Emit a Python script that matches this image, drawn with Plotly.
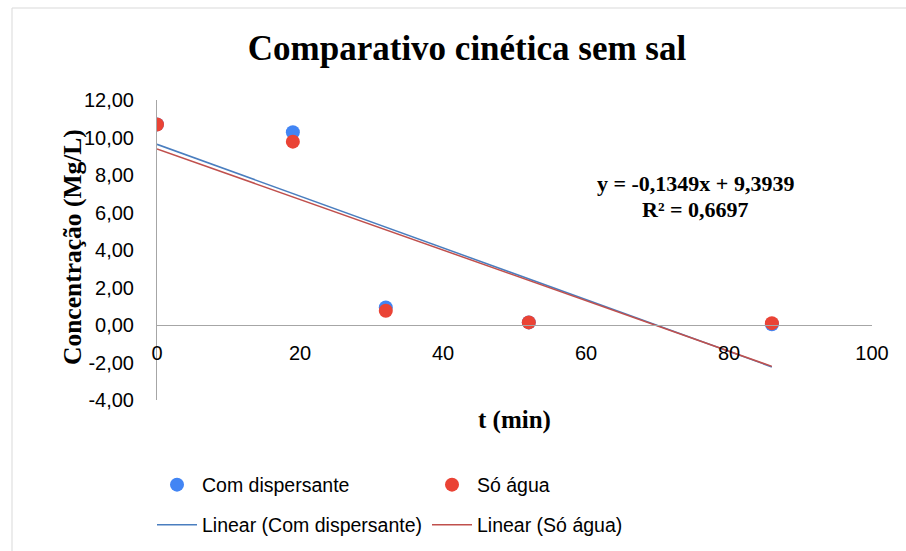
import numpy as np
import plotly.graph_objects as go

# Sampling times (min) and measured concentrations (mg/L)
tempo = [0, 19, 32, 52, 86]
com_dispersante = [10.70, 10.28, 0.93, 0.14, 0.04]
so_agua = [10.69, 9.78, 0.76, 0.14, 0.10]

# Linear trend reported for the "Só água" series
agua_slope = -0.1349
agua_intercept = 9.3939
agua_r2 = 0.6697

x_ticks = [0, 20, 40, 60, 80, 100]
y_ticks = [-4, -2, 0, 2, 4, 6, 8, 10, 12]
y_tick_text = ["-4,00", "-2,00", "0,00", "2,00", "4,00", "6,00", "8,00", "10,00", "12,00"]

# Layout geometry (pixels)
W, H = 906, 551
ML, MR, MT, MB = 157, 34, 100, 151
PW, PH = W - ML - MR, H - MT - MB


def px(x):
    return (x - ML) / PW


def py(y):
    return (H - MB - y) / PH


BLUE_PT, RED_PT = "#4285f4", "#ea4335"
BLUE_LN, RED_LN = "#4a7ebf", "#c0504d"
SERIF = "Liberation Serif"
SANS = "Liberation Sans"

x_fit = [min(tempo), max(tempo)]
b_slope, b_int = np.polyfit(tempo, com_dispersante, 1)
blue_fit = [b_slope * x + b_int for x in x_fit]
red_fit = [agua_slope * x + agua_intercept for x in x_fit]

fig = go.Figure()
fig.add_trace(go.Scatter(
    x=x_fit, y=blue_fit, mode="lines", name="Linear (Com dispersante)",
    line=dict(color=BLUE_LN, width=1.5), legend="legend2"))
fig.add_trace(go.Scatter(
    x=x_fit, y=red_fit, mode="lines", name="Linear (Só água)",
    line=dict(color=RED_LN, width=1.5), legend="legend2"))
fig.add_trace(go.Scatter(
    x=tempo, y=com_dispersante, mode="markers", name="Com dispersante",
    marker=dict(color=BLUE_PT, size=14, line=dict(width=0))))
fig.add_trace(go.Scatter(
    x=tempo, y=so_agua, mode="markers", name="Só água",
    marker=dict(color=RED_PT, size=14, line=dict(width=0))))


def fmt(v, n):
    return f"{v:.{n}f}".replace(".", ",")


eq_text = f"y = {fmt(agua_slope, 4)}x + {fmt(agua_intercept, 4)}"
r2_text = f"R² = {fmt(agua_r2, 4)}"

annotations = [
    dict(text=eq_text, x=px(695), y=py(183), xref="paper", yref="paper",
         showarrow=False, xanchor="center", yanchor="middle",
         font=dict(family=SERIF, size=22, color="#000", weight="bold")),
    dict(text=r2_text, x=px(695), y=py(209), xref="paper", yref="paper",
         showarrow=False, xanchor="center", yanchor="middle",
         font=dict(family=SERIF, size=22, color="#000", weight="bold")),
    dict(text="Concentração (Mg/L)", x=px(72), y=py(247), xref="paper", yref="paper",
         showarrow=False, textangle=-90, xanchor="center", yanchor="middle",
         font=dict(family=SERIF, size=25.5, color="#000", weight="bold")),
    dict(text="t (min)", x=px(514), y=py(420), xref="paper", yref="paper",
         showarrow=False, xanchor="center", yanchor="middle",
         font=dict(family=SERIF, size=25, color="#000", weight="bold")),
]

# chart-area frame
shapes = [
    dict(type="line", xref="paper", yref="paper", x0=px(12), x1=px(W + 5),
         y0=py(8), y1=py(8), line=dict(color="#d9d9d9", width=1)),
    dict(type="line", xref="paper", yref="paper", x0=px(12), x1=px(12),
         y0=py(8), y1=py(H + 5), line=dict(color="#d9d9d9", width=1)),
]

legend_font = dict(family=SANS, size=19.5, color="#000")

fig.update_layout(
    width=W, height=H,
    margin=dict(l=ML, r=MR, t=MT, b=MB, autoexpand=False),
    paper_bgcolor="white", plot_bgcolor="white",
    title=dict(text="Comparativo cinética sem sal", x=px(467), xref="paper",
               xanchor="center", y=1 - 48 / H, yanchor="middle",
               font=dict(family=SERIF, size=35, color="#000", weight="bold")),
    xaxis=dict(range=[0, 100], tickvals=x_ticks, anchor="free", position=py(325),
               showline=True, linecolor="#a6a6a6", linewidth=1, showgrid=False,
               zeroline=False, ticks="", ticklabelstandoff=10,
               tickfont=dict(family=SANS, size=20, color="#000")),
    yaxis=dict(range=[-4, 12], tickvals=y_ticks, ticktext=y_tick_text,
               showline=True, linecolor="#a6a6a6", linewidth=1, showgrid=False,
               zeroline=False, ticks="", ticklabelstandoff=18,
               tickfont=dict(family=SANS, size=20, color="#000")),
    legend=dict(orientation="h", x=px(152), xanchor="left", y=py(485), yanchor="middle",
                itemwidth=40, entrywidth=220, entrywidthmode="pixels", font=legend_font,
                bgcolor="rgba(0,0,0,0)", traceorder="normal"),
    legend2=dict(orientation="h", x=px(152), xanchor="left", y=py(525), yanchor="middle",
                 itemwidth=40, entrywidth=220, entrywidthmode="pixels", font=legend_font,
                 bgcolor="rgba(0,0,0,0)", traceorder="normal"),
    annotations=annotations,
    shapes=shapes,
    showlegend=True,
)

fig.write_html("out.html")
